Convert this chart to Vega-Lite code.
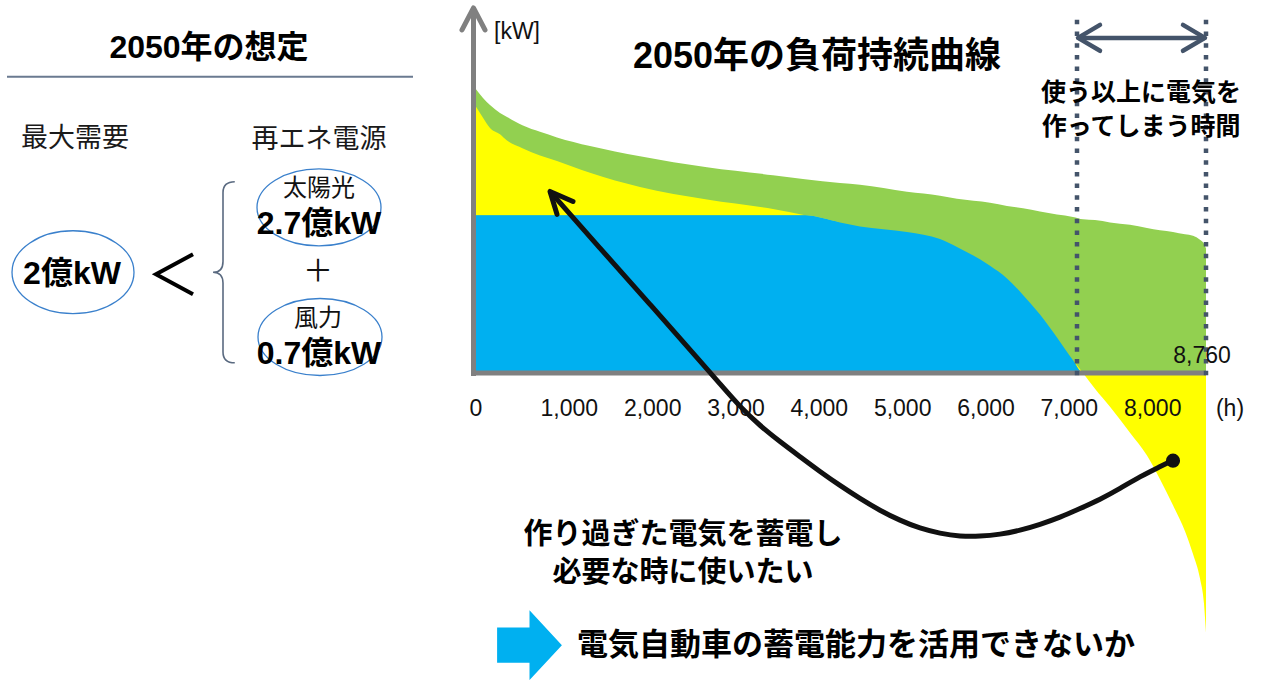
{
  "$schema": "https://vega.github.io/schema/vega-lite/v6.json",
  "width": 1264,
  "height": 680,
  "autosize": {"type": "fit", "contains": "padding"},
  "padding": 0,
  "background": "white",
  "config": {"view": {"stroke": null}},
  "datasets": {
    "curve": [
      {"h": 0, "U": 3.60, "L": 3.38, "B": 2},
      {"h": 84, "U": 3.49, "L": 3.24, "B": 2},
      {"h": 168, "U": 3.40, "L": 3.11, "B": 2},
      {"h": 288, "U": 3.30, "L": 3.03, "B": 2},
      {"h": 372, "U": 3.25, "L": 2.95, "B": 2},
      {"h": 564, "U": 3.14, "L": 2.85, "B": 2},
      {"h": 768, "U": 3.06, "L": 2.76, "B": 2},
      {"h": 972, "U": 2.99, "L": 2.69, "B": 2},
      {"h": 1368, "U": 2.88, "L": 2.54, "B": 2},
      {"h": 1968, "U": 2.75, "L": 2.36, "B": 2},
      {"h": 2772, "U": 2.61, "L": 2.20, "B": 2},
      {"h": 3564, "U": 2.51, "L": 2.08, "B": 2},
      {"h": 3948, "U": 2.46, "L": 2.00, "B": 2},
      {"h": 4368, "U": 2.41, "L": 1.91, "B": 1.91},
      {"h": 4608, "U": 2.39, "L": 1.86, "B": 1.86},
      {"h": 5172, "U": 2.30, "L": 1.79, "B": 1.79},
      {"h": 5568, "U": 2.25, "L": 1.70, "B": 1.70},
      {"h": 5772, "U": 2.21, "L": 1.60, "B": 1.60},
      {"h": 6168, "U": 2.16, "L": 1.36, "B": 1.36},
      {"h": 6372, "U": 2.12, "L": 1.20, "B": 1.20},
      {"h": 6564, "U": 2.09, "L": 0.99, "B": 0.99},
      {"h": 6768, "U": 2.05, "L": 0.74, "B": 0.74},
      {"h": 6972, "U": 2.01, "L": 0.45, "B": 0.45},
      {"h": 7164, "U": 1.98, "L": 0.16, "B": 0.16},
      {"h": 7284, "U": 1.95, "L": 0.00, "B": 0},
      {"h": 7428, "U": 1.94, "L": -0.20, "B": 0},
      {"h": 7608, "U": 1.91, "L": -0.43, "B": 0},
      {"h": 7848, "U": 1.88, "L": -0.76, "B": 0},
      {"h": 8052, "U": 1.84, "L": -1.05, "B": 0},
      {"h": 8208, "U": 1.81, "L": -1.35, "B": 0},
      {"h": 8364, "U": 1.79, "L": -1.68, "B": 0},
      {"h": 8508, "U": 1.76, "L": -2.01, "B": 0},
      {"h": 8604, "U": 1.74, "L": -2.30, "B": 0},
      {"h": 8688, "U": 1.69, "L": -2.61, "B": 0},
      {"h": 8736, "U": 1.64, "L": -2.93, "B": 0},
      {"h": 8760, "U": 1.58, "L": -3.30, "B": 0}
    ],
    "arrow": [
      {"h": 888, "v": 2.304},
      {"h": 1488, "v": 1.582},
      {"h": 2088, "v": 0.873},
      {"h": 2688, "v": 0.152},
      {"h": 2928, "v": -0.139},
      {"h": 3168, "v": -0.430},
      {"h": 3408, "v": -0.671},
      {"h": 3648, "v": -0.873},
      {"h": 3888, "v": -1.063},
      {"h": 4128, "v": -1.253},
      {"h": 4368, "v": -1.430},
      {"h": 4608, "v": -1.595},
      {"h": 4848, "v": -1.747},
      {"h": 5088, "v": -1.873},
      {"h": 5328, "v": -1.975},
      {"h": 5568, "v": -2.038},
      {"h": 5808, "v": -2.076},
      {"h": 6048, "v": -2.076},
      {"h": 6288, "v": -2.051},
      {"h": 6528, "v": -2.000},
      {"h": 6768, "v": -1.924},
      {"h": 7008, "v": -1.835},
      {"h": 7248, "v": -1.722},
      {"h": 7488, "v": -1.608},
      {"h": 7728, "v": -1.468},
      {"h": 7968, "v": -1.316},
      {"h": 8208, "v": -1.190},
      {"h": 8352, "v": -1.114}
    ],
    "ticks": [
      {"h": 0, "v": -0.456, "t": "0"},
      {"h": 1000, "v": -0.456, "t": "1,000"},
      {"h": 2000, "v": -0.456, "t": "2,000"},
      {"h": 3000, "v": -0.456, "t": "3,000"},
      {"h": 4000, "v": -0.456, "t": "4,000"},
      {"h": 5000, "v": -0.456, "t": "5,000"},
      {"h": 6000, "v": -0.456, "t": "6,000"},
      {"h": 7000, "v": -0.456, "t": "7,000"},
      {"h": 8000, "v": -0.456, "t": "8,000"}
    ]
  },
  "encoding": {
    "x": {"field": "h", "type": "quantitative", "scale": {"domain": [-5712, 9456], "nice": false, "zero": false}, "axis": null},
    "y": {"field": "v", "type": "quantitative", "scale": {"domain": [-3.873, 4.734], "nice": false, "zero": false}, "axis": null}
  },
  "layer": [
    {
      "data": {"name": "curve"},
      "mark": {"type": "area", "color": "#92d050", "interpolate": "monotone"},
      "encoding": {
        "y": {"field": "U", "type": "quantitative", "scale": {"domain": [-3.873, 4.734], "nice": false, "zero": false}, "axis": null},
        "y2": {"datum": 0}
      }
    },
    {
      "data": {"name": "curve"},
      "mark": {"type": "area", "color": "#ffff00", "interpolate": "monotone"},
      "encoding": {
        "y": {"field": "L", "type": "quantitative", "scale": {"domain": [-3.873, 4.734], "nice": false, "zero": false}, "axis": null},
        "y2": {"field": "B"}
      }
    },
    {
      "data": {"name": "curve"},
      "mark": {"type": "area", "color": "#00b0f0", "interpolate": "monotone"},
      "encoding": {
        "y": {"field": "B", "type": "quantitative", "scale": {"domain": [-3.873, 4.734], "nice": false, "zero": false}, "axis": null},
        "y2": {"datum": 0}
      }
    },
    {
      "data": {"values": [{"h": -60, "h2": 8760, "v": 0}]},
      "mark": {"type": "rule", "color": "#808080", "strokeWidth": 5},
      "encoding": {"x2": {"field": "h2"}}
    },
    {
      "data": {"values": [{"h": -30, "v": -0.04, "v2": 4.633}]},
      "mark": {"type": "rule", "color": "#808080", "strokeWidth": 5},
      "encoding": {"y2": {"field": "v2"}}
    },
    {
      "data": {"values": [{"o": 1, "h": -168, "v": 4.354}, {"o": 2, "h": -30, "v": 4.633}, {"o": 3, "h": 108, "v": 4.354}]},
      "mark": {"type": "line", "color": "#808080", "strokeWidth": 5, "strokeCap": "round", "strokeJoin": "round"},
      "encoding": {"order": {"field": "o"}}
    },
    {
      "data": {"values": [{"h": 7212, "v": -0.03, "v2": 4.506}, {"h": 8760, "v": -0.03, "v2": 4.506}]},
      "mark": {"type": "rule", "color": "#44546a", "strokeWidth": 4.5, "strokeDash": [4.5, 7.2]},
      "encoding": {"y2": {"field": "v2"}}
    },
    {
      "data": {"values": [{"h": 7230, "h2": 8742, "v": 4.253}]},
      "mark": {"type": "rule", "color": "#44546a", "strokeWidth": 4.5},
      "encoding": {"x2": {"field": "h2"}}
    },
    {
      "data": {"values": [
        {"g": "l", "o": 1, "h": 7488, "v": 4.418}, {"g": "l", "o": 2, "h": 7224, "v": 4.253}, {"g": "l", "o": 3, "h": 7488, "v": 4.089},
        {"g": "r", "o": 1, "h": 8484, "v": 4.418}, {"g": "r", "o": 2, "h": 8748, "v": 4.253}, {"g": "r", "o": 3, "h": 8484, "v": 4.089}
      ]},
      "mark": {"type": "line", "color": "#44546a", "strokeWidth": 4.5, "strokeCap": "round", "strokeJoin": "round"},
      "encoding": {"order": {"field": "o"}, "detail": {"field": "g"}}
    },
    {
      "data": {"name": "ticks"},
      "transform": [{"filter": "datum.h == 0"}],
      "mark": {"type": "text", "font": "'Liberation Sans', sans-serif", "fontSize": 23, "color": "#111", "align": "center", "baseline": "middle"},
      "encoding": {"text": {"field": "t"}}
    },
    {
      "data": {"name": "ticks"},
      "transform": [{"filter": "datum.h > 0"}],
      "mark": {"type": "text", "font": "'Liberation Sans', sans-serif", "fontSize": 23, "color": "#111", "align": "center", "baseline": "middle", "dx": 10},
      "encoding": {"text": {"field": "t"}}
    },
    {
      "data": {"values": [{"h": 8760, "v": 0.215, "t": "8,760"}]},
      "mark": {"type": "text", "font": "'Liberation Sans', sans-serif", "fontSize": 23, "color": "#111", "align": "center", "baseline": "middle", "dx": -4},
      "encoding": {"text": {"field": "t"}}
    },
    {
      "data": {"values": [{"h": 9048, "v": -0.456, "t": "(h)"}, {"h": 492, "v": 4.329, "t": "[kW]"}]},
      "mark": {"type": "text", "font": "'Liberation Sans', sans-serif", "fontSize": 23, "color": "#111", "align": "center", "baseline": "middle"},
      "encoding": {"text": {"field": "t"}}
    },
    {
      "data": {"values": [{"h": 4092, "v": 4.013, "t": "2050年の負荷持続曲線"}]},
      "mark": {"type": "text", "font": "'Liberation Sans', 'Noto Sans CJK JP', sans-serif", "fontSize": 36, "fontWeight": "bold", "color": "#000", "align": "center", "baseline": "middle"},
      "encoding": {"text": {"field": "t"}}
    },
    {
      "data": {"values": [{"h": 7980, "v": 3.557, "t": "使う以上に電気を"}, {"h": 7980, "v": 3.127, "t": "作ってしまう時間"}]},
      "mark": {"type": "text", "font": "'Noto Sans CJK JP', sans-serif", "fontSize": 25, "fontWeight": "bold", "color": "#000", "align": "center", "baseline": "middle"},
      "encoding": {"text": {"field": "t"}}
    },
    {
      "data": {"name": "arrow"},
      "mark": {"type": "line", "color": "#111", "strokeWidth": 5, "interpolate": "basis"},
      "encoding": {}
    },
    {
      "data": {"values": [{"o": 1, "h": 1164, "v": 2.177}, {"o": 2, "h": 888, "v": 2.304}, {"o": 3, "h": 972, "v": 2.013}]},
      "mark": {"type": "line", "color": "#111", "strokeWidth": 5, "strokeCap": "round", "strokeJoin": "round"},
      "encoding": {"order": {"field": "o"}}
    },
    {
      "data": {"values": [{"h": 8364, "v": -1.114}]},
      "mark": {"type": "point", "shape": "circle", "filled": true, "size": 200, "color": "#111", "opacity": 1},
      "encoding": {}
    },
    {
      "data": {"values": [{"h": 2484, "v": -2.063, "t": "作り過ぎた電気を蓄電し"}, {"h": 2484, "v": -2.544, "t": "必要な時に使いたい"}]},
      "mark": {"type": "text", "font": "'Noto Sans CJK JP', sans-serif", "fontSize": 29, "fontWeight": "bold", "color": "#000", "align": "center", "baseline": "middle"},
      "encoding": {"text": {"field": "t"}}
    },
    {
      "data": {"values": [{"h": 4560, "v": -3.468, "t": "電気自動車の蓄電能力を活用できないか"}]},
      "mark": {"type": "text", "font": "'Noto Sans CJK JP', sans-serif", "fontSize": 31, "fontWeight": "bold", "color": "#000", "align": "center", "baseline": "middle"},
      "encoding": {"text": {"field": "t"}}
    },
    {
      "data": {"values": [{"h": 642, "v": -3.456}]},
      "mark": {"type": "point", "shape": "M-0.9,-0.49 L0,-0.49 L0,-0.97 L0.9,0 L0,0.97 L0,0.49 L-0.9,0.49 Z", "size": 5184, "filled": true, "color": "#00b0f0", "opacity": 1, "strokeWidth": 0},
      "encoding": {}
    },
    {
      "data": {"values": [{"h": -3204, "v": 4.127, "t": "2050年の想定"}]},
      "mark": {"type": "text", "font": "'Liberation Sans', 'Noto Sans CJK JP', sans-serif", "fontSize": 32, "fontWeight": "bold", "color": "#000", "align": "center", "baseline": "middle"},
      "encoding": {"text": {"field": "t"}}
    },
    {
      "data": {"values": [{"h": -5628, "h2": -756, "v": 3.759}]},
      "mark": {"type": "rule", "color": "#6a7a90", "strokeWidth": 2},
      "encoding": {"x2": {"field": "h2"}}
    },
    {
      "data": {"values": [{"h": -4812, "v": 2.975, "t": "最大需要"}, {"h": -1884, "v": 2.962, "t": "再エネ電源"}]},
      "mark": {"type": "text", "font": "'Noto Sans CJK JP', sans-serif", "fontSize": 27, "color": "#1a1a1a", "align": "center", "baseline": "middle"},
      "encoding": {"text": {"field": "t"}}
    },
    {
      "data": {"values": [{"h": -4836, "v": 1.278}]},
      "mark": {"type": "point", "shape": "M-1,0 C-1,-0.375 -0.552,-0.68 0,-0.68 C0.552,-0.68 1,-0.375 1,0 C1,0.375 0.552,0.68 0,0.68 C-0.552,0.68 -1,0.375 -1,0 Z", "size": 14884, "filled": false, "stroke": "#3a80cc", "strokeWidth": 1.3, "opacity": 1},
      "encoding": {}
    },
    {
      "data": {"values": [{"h": -1884, "v": 2.101}, {"h": -1872, "v": 0.456}]},
      "mark": {"type": "point", "shape": "M-1,0 C-1,-0.343 -0.552,-0.621 0,-0.621 C0.552,-0.621 1,-0.343 1,0 C1,0.343 0.552,0.621 0,0.621 C-0.552,0.621 -1,0.343 -1,0 Z", "size": 15376, "filled": false, "stroke": "#3a80cc", "strokeWidth": 1.3, "opacity": 1},
      "encoding": {}
    },
    {
      "data": {"values": [{"h": -4848, "v": 1.253, "t": "2億kW"}, {"h": -1884, "v": 1.886, "t": "2.7億kW"}, {"h": -1884, "v": 0.241, "t": "0.7億kW"}]},
      "mark": {"type": "text", "font": "'Liberation Sans', 'Noto Sans CJK JP', sans-serif", "fontSize": 32, "fontWeight": "bold", "color": "#000", "align": "center", "baseline": "middle"},
      "encoding": {"text": {"field": "t"}}
    },
    {
      "data": {"values": [{"h": -1884, "v": 2.329, "t": "太陽光"}, {"h": -1896, "v": 0.684, "t": "風力"}]},
      "mark": {"type": "text", "font": "'Noto Sans CJK JP', sans-serif", "fontSize": 24, "color": "#111", "align": "center", "baseline": "middle"},
      "encoding": {"text": {"field": "t"}}
    },
    {
      "data": {"values": [{"h": -1896, "v": 1.278, "t": "＋"}]},
      "mark": {"type": "text", "font": "'Noto Sans CJK JP', sans-serif", "fontSize": 30, "color": "#111", "align": "center", "baseline": "middle"},
      "encoding": {"text": {"field": "t"}}
    },
    {
      "data": {"values": [{"o": 1, "h": -3396, "v": 1.506}, {"o": 2, "h": -3840, "v": 1.253}, {"o": 3, "h": -3396, "v": 1.0}]},
      "mark": {"type": "line", "color": "#000", "strokeWidth": 4},
      "encoding": {"order": {"field": "o"}}
    },
    {
      "data": {"values": [{"h": -3036, "v": 1.278}]},
      "mark": {"type": "point", "shape": "M0.13,-1 Q0,-1 0,-0.88 L0,-0.12 Q0,0 -0.11,0 Q0,0 0,0.12 L0,0.88 Q0,1 0.13,1", "size": 32761, "filled": false, "stroke": "#5a6a80", "strokeWidth": 1.6, "opacity": 1},
      "encoding": {}
    }
  ]
}
